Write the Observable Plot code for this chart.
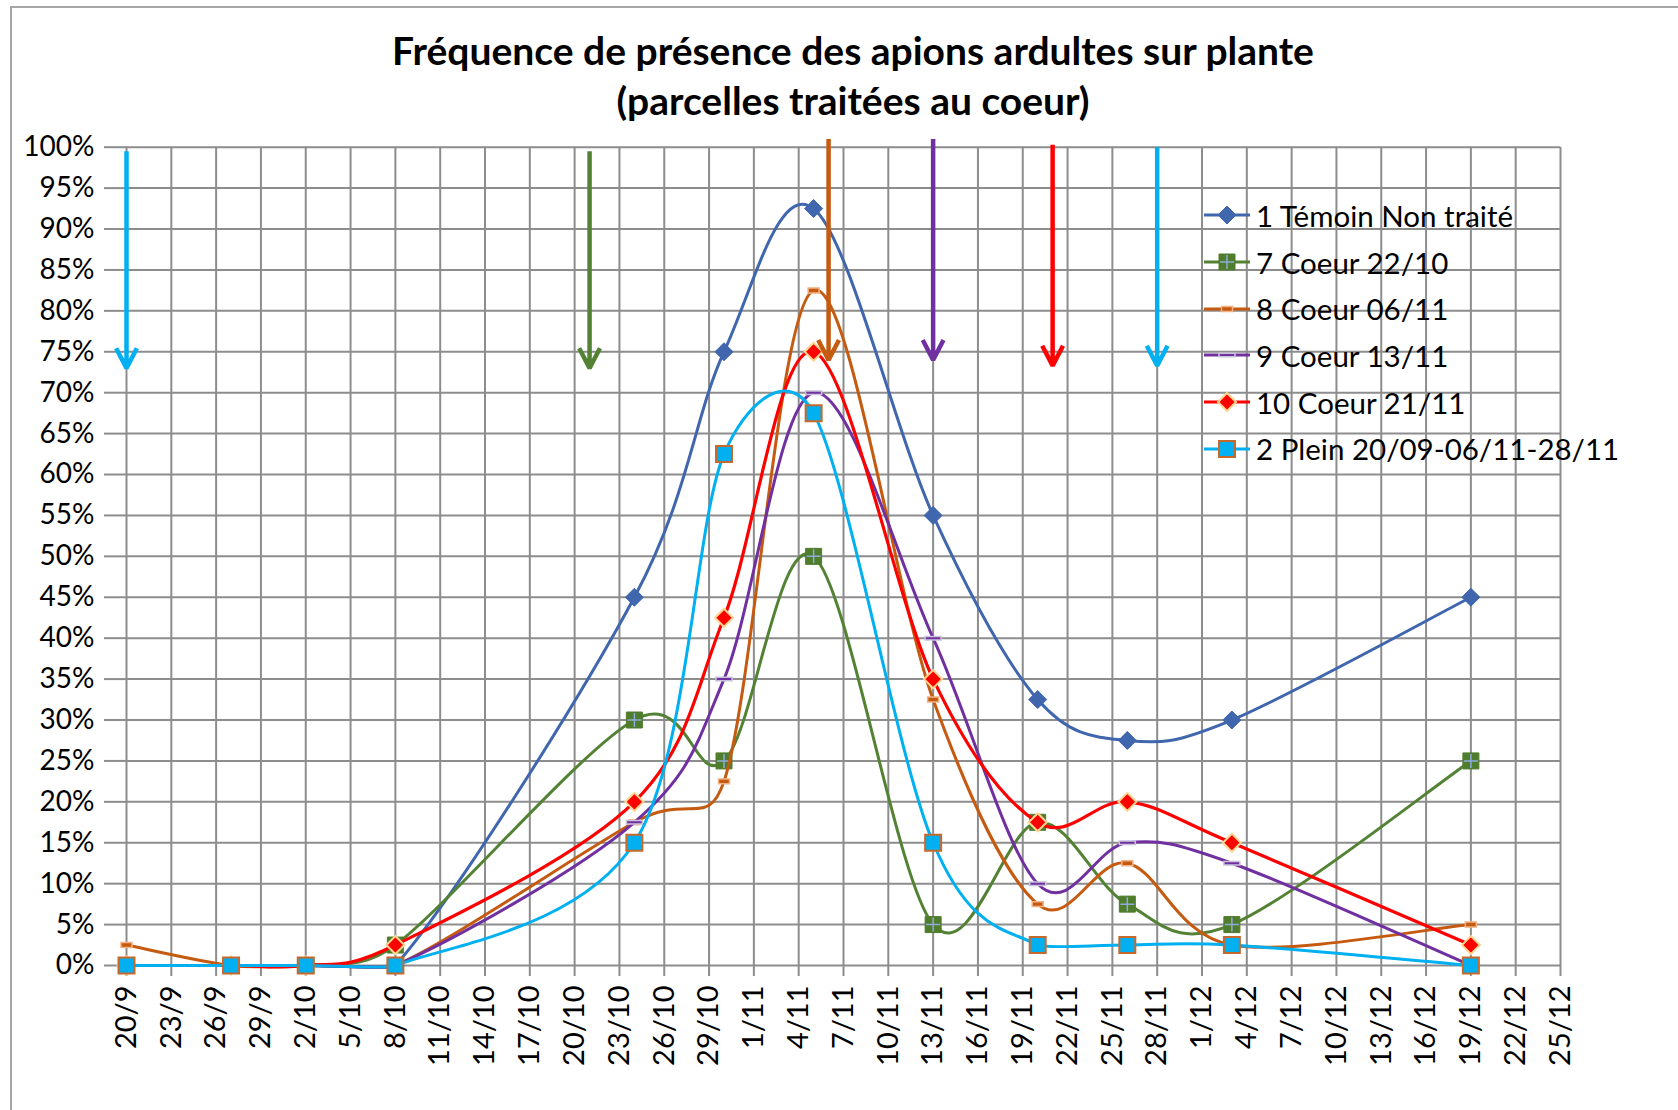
<!DOCTYPE html>
<html>
<head>
<meta charset="utf-8">
<script src="https://cdn.jsdelivr.net/npm/d3@7"></script>
<script src="https://cdn.jsdelivr.net/npm/@observablehq/plot@0.6"></script>
<style>
  body { margin: 0; background: #fff; width: 1678px; height: 1110px; overflow: hidden; position: relative; font-family: Lato, sans-serif; }
  #frame { position: absolute; left: 10px; top: 6px; width: 1700px; height: 1200px; border-top: 2px solid #a6a6a6; border-left: 2px solid #a6a6a6; pointer-events: none; }
  #title { height: 125px; margin-left: 28px; width: 1650px; box-sizing: border-box; padding-top: 25px; text-align: center; font-family: Lato, sans-serif; font-weight: 700; font-size: 39px; line-height: 50px; color: #000; overflow: hidden; }
  #chart { position: relative; }
  #legend { position: absolute; left: 1204px; top: 192px; font-family: Lato, sans-serif; font-size: 29.5px; color: #000; }
  .row { display: flex; align-items: center; height: 46.7px; white-space: nowrap; }
  .row svg { margin-right: 6px; overflow: visible; }
</style>
</head>
<body>
<div id="title">Fréquence de présence des apions ardultes sur plante<br>(parcelles traitées au coeur)</div>
<div id="chart"></div>
<div id="legend"></div>
<div id="frame"></div>
<script>
// ---------------- DATA ----------------
const YEAR = "2012";
const obsDates = ["20/9","27/9","2/10","8/10","24/10","30/10","5/11","13/11","20/11","26/11","3/12","19/12"];

const seriesNames = ["1 Témoin Non traité", "7 Coeur 22/10", "8 Coeur 06/11", "9 Coeur 13/11", "10 Coeur 21/11", "2 Plein 20/09-06/11-28/11"];

const temoin    = [0, 0, 0, 0,     0.45,  0.75,  0.925, 0.55,  0.325, 0.275, 0.30,  0.45];
const coeur2210 = [0, 0, 0, 0.025, 0.30,  0.25,  0.50,  0.05,  0.175, 0.075, 0.05,  0.25];
const coeur0611 = [0.025, 0, 0, 0, 0.175, 0.225, 0.825, 0.325, 0.075, 0.125, 0.025, 0.05];
const coeur1311 = [0, 0, 0, 0,     0.175, 0.35,  0.70,  0.40,  0.10,  0.15,  0.125, 0];
const coeur2111 = [0, 0, 0, 0.025, 0.20,  0.425, 0.75,  0.35,  0.175, 0.20,  0.15,  0.025];
const plein     = [0, 0, 0, 0,     0.15,  0.625, 0.675, 0.15,  0.025, 0.025, 0.025, 0];
const seriesValues = [temoin, coeur2210, coeur0611, coeur1311, coeur2111, plein];

// treatment arrows (date, top value, tip value)
const arrowDates = ["20/9", "21/10", "6/11", "13/11", "21/11", "28/11"];
const arrowTop   = [0.995, 0.995, 1.01, 1.01, 1.003, 1.0];
const arrowTip   = [0.73, 0.73, 0.74, 0.74, 0.733, 0.733];

const xTickLabels = ["20/9","23/9","26/9","29/9","2/10","5/10","8/10","11/10","14/10","17/10","20/10","23/10","26/10","29/10","1/11","4/11","7/11","10/11","13/11","16/11","19/11","22/11","25/11","28/11","1/12","4/12","7/12","10/12","13/12","16/12","19/12","22/12","25/12"];
const yTicks = [0,0.05,0.10,0.15,0.20,0.25,0.30,0.35,0.40,0.45,0.50,0.55,0.60,0.65,0.70,0.75,0.80,0.85,0.90,0.95,1.00];

// ---------------- STYLES ----------------
const symR = size => Math.sqrt(size / Math.PI);
const symDiamond = {draw(c, s) { const r = symR(s); c.moveTo(0, -r); c.lineTo(r, 0); c.lineTo(0, r); c.lineTo(-r, 0); c.closePath(); }};
const symSquare  = {draw(c, s) { const r = symR(s); c.rect(-r, -r, 2 * r, 2 * r); }};
const symPlus    = {draw(c, s) { const r = symR(s); c.moveTo(-r, 0); c.lineTo(r, 0); c.moveTo(0, -r); c.lineTo(0, r); }};
const symDash = k => ({draw(c, s) { const r = symR(s); const h = r * k; c.rect(-r, -h, 2 * r, 2 * h); }});

const styles = [
  {color: "#4066AE", width: 3, markers: [{symbol: symDiamond, r: 9, fill: "#4066AE", stroke: "#4066AE", sw: 1}]},
  {color: "#548235", width: 3, markers: [{symbol: symSquare, r: 8, fill: "#4F7D2C", stroke: "#4F7D2C", sw: 1}, {symbol: symPlus, r: 7, fill: "none", stroke: "#8FAADC", sw: 1.5}]},
  {color: "#C55A11", width: 3, markers: [{symbol: symDash(0.45), r: 5.5, fill: "#C55A11", stroke: "#F4B183", sw: 1.5}]},
  {color: "#7030A0", width: 3, markers: [{symbol: symDash(0.22), r: 8, fill: "#7030A0", stroke: "#C9C3DA", sw: 1.5}]},
  {color: "#FF0000", width: 3.2, markers: [{symbol: symDiamond, r: 9, fill: "#FF0000", stroke: "#FFD58F", sw: 2}]},
  {color: "#00B0F0", width: 3, markers: [{symbol: symSquare, r: 8, fill: "#00B0F0", stroke: "#C8692C", sw: 2}]}
];
const arrowColors = ["#00B0F0", "#548235", "#C55A11", "#7030A0", "#FF0000", "#00B0F0"];
const gridColor = "#8d8d8d";

// Spreadsheet-style smoothed line: cardinal Bezier whose control handles are
// limited by the rise of the adjacent segment (avoids dips on flat runs).
function smoothCurve(context) {
  let pts;
  return {
    areaStart() {}, areaEnd() {},
    lineStart() { pts = []; },
    point(x, y) { pts.push([+x, +y]); },
    lineEnd() {
      const n = pts.length;
      if (!n) return;
      context.moveTo(pts[0][0], pts[0][1]);
      if (n === 1) return;
      if (n === 2) { context.lineTo(pts[1][0], pts[1][1]); return; }
      const K = 1.1, C = 4;
      const cps = pts.map((p, i) => {
        const a = pts[Math.max(0, i - 1)], b = pts[Math.min(n - 1, i + 1)];
        const tx = (b[0] - a[0]) / 6, ty = (b[1] - a[1]) / 6;
        const side = q => { const lim = K * Math.abs(p[1] - q[1]) + C; return Math.abs(ty) > lim ? lim / Math.abs(ty) : 1; };
        const sL = i > 0 ? side(pts[i - 1]) : 1;
        const sR = i < n - 1 ? side(pts[i + 1]) : 1;
        return {l: [p[0] - tx * sL, p[1] - ty * sL], r: [p[0] + tx * sR, p[1] + ty * sR]};
      });
      for (let i = 0; i < n - 1; i++) {
        context.bezierCurveTo(cps[i].r[0], cps[i].r[1], cps[i + 1].l[0], cps[i + 1].l[1], pts[i + 1][0], pts[i + 1][1]);
      }
    }
  };
}

// ---------------- BUILD ----------------
const parse = d3.utcParse("%d/%m/%Y");
const toDate = s => parse(s + "/" + YEAR);
const xTicks = xTickLabels.map(toDate);

const rows = [];
seriesNames.forEach((name, k) => {
  seriesValues[k].forEach((v, i) => rows.push({series: name, k, date: toDate(obsDates[i]), value: v}));
});
const arrows = arrowDates.map((d, i) => ({date: toDate(d), top: arrowTop[i], tip: arrowTip[i], color: arrowColors[i]}));

const marks = [
  Plot.gridY(yTicks, {stroke: gridColor, strokeOpacity: 1, strokeWidth: 2}),
  Plot.gridX(xTicks, {stroke: gridColor, strokeOpacity: 1, strokeWidth: 2}),
  Plot.axisY(yTicks, {tickFormat: d3.format(".0%"), tickSize: 22, tickPadding: 10, fontSize: 28, fontFamily: "Lato", stroke: gridColor, strokeWidth: 2, fill: "#000", label: null}),
  Plot.axisX(xTicks, {tickFormat: d3.utcFormat("%-d/%-m"), tickRotate: -90, tickSize: 11, tickPadding: 9, fontSize: 29, fontFamily: "Lato", stroke: gridColor, strokeWidth: 2, fill: "#000", label: null})
];
seriesNames.forEach((name, k) => {
  const data = rows.filter(r => r.k === k);
  const st = styles[k];
  marks.push(Plot.line(data, {x: "date", y: "value", stroke: st.color, strokeWidth: st.width, curve: smoothCurve}));
  st.markers.forEach(m => {
    marks.push(Plot.dot(data, {x: "date", y: "value", symbol: m.symbol, r: m.r, fill: m.fill, stroke: m.stroke, strokeWidth: m.sw}));
  });
});
marks.push(Plot.arrow(arrows, {x: "date", y1: "top", y2: "tip", stroke: "color", strokeWidth: 4.5, headLength: 7.5, headAngle: 55, strokeLinejoin: "miter", strokeLinecap: "butt"}));

const chart = Plot.plot({
  width: 1678,
  height: 985,
  marginLeft: 126,
  marginRight: 118,
  marginTop: 21.7,
  marginBottom: 145,
  style: {background: "transparent", color: "#000", overflow: "visible"},
  x: {type: "utc", domain: [toDate("20/9"), toDate("25/12")]},
  y: {domain: [0, 1]},
  marks
});
document.getElementById("chart").appendChild(chart);

// ---------------- LEGEND ----------------
const legend = d3.select("#legend");
seriesNames.forEach((name, k) => {
  const st = styles[k];
  const row = legend.append("div").attr("class", "row");
  const svg = row.append("svg").attr("width", 46).attr("height", 24);
  svg.append("line").attr("x1", 0).attr("x2", 46).attr("y1", 12).attr("y2", 12).attr("stroke", st.color).attr("stroke-width", st.width);
  st.markers.forEach(m => {
    svg.append("path").attr("transform", "translate(23,12)")
      .attr("d", d3.symbol(m.symbol, Math.PI * m.r * m.r)())
      .attr("fill", m.fill).attr("stroke", m.stroke).attr("stroke-width", m.sw);
  });
  row.append("span").text(name);
});
</script>
</body>
</html>
